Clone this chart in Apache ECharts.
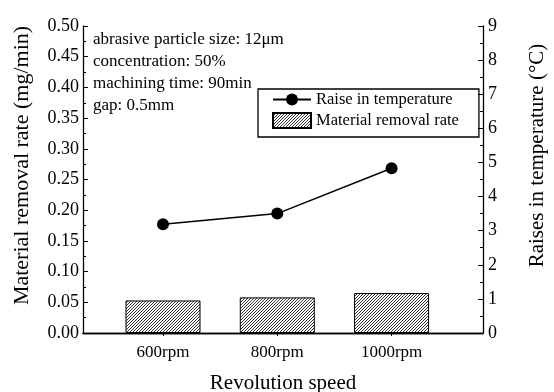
<!DOCTYPE html>
<html>
<head>
<meta charset="utf-8">
<script src="https://cdn.jsdelivr.net/npm/echarts@6/dist/echarts.min.js"></script>
<style>
  html, body { margin: 0; padding: 0; background: #fff; }
  #chart { width: 554px; height: 392px; }
</style>
</head>
<body>
<div id="chart"></div>
<script>
const categories = ['600rpm', '800rpm', '1000rpm']
const removalRate = [0.053, 0.058, 0.065]
const tempRise = [3.19, 3.5, 4.83]
const notes = [
  'abrasive particle size: 12μm',
  'concentration: 50%',
  'machining time: 90min',
  'gap: 0.5mm',
]

const FONT = '"Liberation Serif", "Times New Roman", serif'
const catPos = categories.map((c, i) => i + 1)

// diagonal hatch fill for the bars
function hatch() {
  const s = 3
  const c = document.createElement('canvas')
  c.width = s
  c.height = s
  const ctx = c.getContext('2d')
  ctx.fillStyle = '#fff'
  ctx.fillRect(0, 0, s, s)
  ctx.strokeStyle = '#000'
  ctx.lineWidth = 0.8
  ctx.beginPath()
  ctx.moveTo(-1, s + 1); ctx.lineTo(s + 1, -1)
  ctx.moveTo(-1, 1); ctx.lineTo(1, -1)
  ctx.moveTo(s - 1, s + 1); ctx.lineTo(s + 1, s - 1)
  ctx.stroke()
  return { image: c, repeat: 'repeat' }
}

const chart = echarts.init(document.getElementById('chart'))
const axisLine = { show: true, lineStyle: { color: '#000', width: 1.3 } }

chart.setOption({
  animation: false,
  textStyle: { fontFamily: FONT, color: '#000' },
  grid: { left: 83, right: 71, top: 26, bottom: 59, outerBoundsMode: 'none', containLabel: false },
  legend: {
    orient: 'vertical',
    left: 258,
    top: 89,
    padding: [2, 20, 8, 14],
    itemGap: 4,
    itemWidth: 38,
    itemHeight: 15,
    borderColor: '#000',
    borderWidth: 1.3,
    textStyle: { fontFamily: FONT, fontSize: 16.5, color: '#000' },
    data: [
      { name: 'Raise in temperature' },
      { name: 'Material removal rate', icon: 'rect' },
    ],
  },
  graphic: [{
    type: 'text',
    left: 93,
    top: 29,
    style: { text: notes.join('\n'), font: '17px ' + FONT, lineHeight: 22, fill: '#000' },
  }],
  xAxis: [
    {
      type: 'value',
      min: 0.3,
      max: 3.8,
      position: 'bottom',
      axisLine,
      axisTick: { inside: true, length: 4, customValues: catPos, lineStyle: { color: '#000' } },
      axisLabel: {
        customValues: catPos,
        formatter: v => categories[Math.round(v) - 1] || '',
        fontSize: 17,
        color: '#000',
        margin: 11,
      },
      splitLine: { show: false },
      name: 'Revolution speed',
      nameLocation: 'middle',
      nameGap: 40,
      nameTextStyle: { fontSize: 21, color: '#000' },
    },
    {
      type: 'value',
      min: 0.3,
      max: 3.8,
      position: 'top',
      axisLine,
      axisTick: { inside: true, length: 3, customValues: catPos, lineStyle: { color: '#000' } },
      axisLabel: { show: false },
      splitLine: { show: false },
    },
  ],
  yAxis: [
    {
      type: 'value',
      min: 0,
      max: 0.5,
      interval: 0.05,
      position: 'left',
      axisLine,
      axisTick: { inside: true, length: 5, lineStyle: { color: '#000' } },
      minorTick: { show: true, splitNumber: 2, length: 3, lineStyle: { color: '#000' } },
      axisLabel: { formatter: v => v.toFixed(2), fontSize: 18, color: '#000', margin: 4 },
      splitLine: { show: false },
      name: 'Material removal rate (mg/min)',
      nameLocation: 'middle',
      nameRotate: 90,
      nameGap: 50,
      nameTextStyle: { fontSize: 22, color: '#000', padding: [0, 0, 0, 28] },
    },
    {
      type: 'value',
      min: 0,
      max: 9,
      interval: 1,
      position: 'right',
      axisLine,
      axisTick: { inside: true, length: 5, lineStyle: { color: '#000' } },
      minorTick: { show: true, splitNumber: 2, length: 3, lineStyle: { color: '#000' } },
      axisLabel: { fontSize: 18, color: '#000', margin: 5 },
      splitLine: { show: false },
      name: 'Raises in temperature (°C)',
      nameLocation: 'middle',
      nameRotate: 90,
      nameGap: 44,
      nameTextStyle: { fontSize: 21, color: '#000', padding: [0, 0, 0, 48] },
    },
  ],
  series: [
    {
      name: 'Material removal rate',
      type: 'bar',
      xAxisIndex: 0,
      yAxisIndex: 0,
      barWidth: 75,
      data: removalRate.map((v, i) => [catPos[i], v]),
      itemStyle: { color: hatch(), borderColor: '#000', borderWidth: 1 },
    },
    {
      name: 'Raise in temperature',
      type: 'line',
      xAxisIndex: 0,
      yAxisIndex: 1,
      data: tempRise.map((v, i) => [catPos[i], v]),
      symbol: 'circle',
      symbolSize: 12,
      itemStyle: { color: '#000' },
      lineStyle: { color: '#000', width: 1.5 },
    },
  ],
})
</script>
</body>
</html>
